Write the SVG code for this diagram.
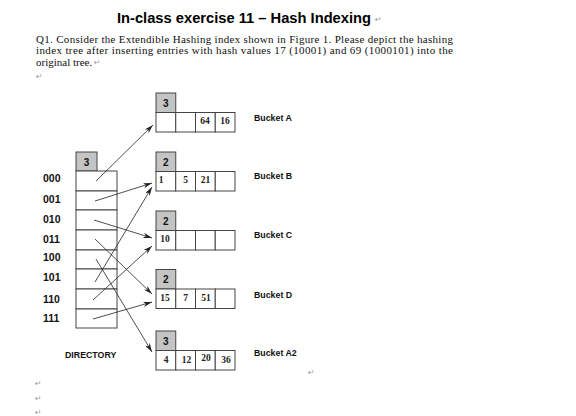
<svg xmlns="http://www.w3.org/2000/svg" width="576" height="416" viewBox="0 0 576 416">
<style>
.title{font-family:"Liberation Sans",Arial,sans-serif;font-weight:bold;font-size:15px;fill:#000}
.body{font-family:"Liberation Serif","Times New Roman",serif;font-size:11px;fill:#111}
.pm{font-family:"DejaVu Sans",sans-serif;font-size:8px;fill:#9a9a9a}
.lbl{font-family:"Liberation Sans",Arial,sans-serif;font-weight:bold;font-size:10.5px;fill:#111}
.blbl{font-family:"Liberation Sans",Arial,sans-serif;font-weight:bold;font-size:8.8px;fill:#111}
.dig{font-family:"Liberation Sans",Arial,sans-serif;font-weight:bold;font-size:10px;fill:#111;text-anchor:middle}
.ent{font-family:"Liberation Serif","Times New Roman",serif;font-weight:bold;font-size:9.5px;fill:#222;text-anchor:middle}
.cell{fill:#fff;stroke:#444;stroke-width:1}
.depth{fill:#c4c4c4;stroke:#444;stroke-width:1}
.conn line{stroke:#222;stroke-width:0.8;marker-end:url(#ah)}
</style>
<defs>
<marker id="ah" viewBox="0 0 10 6" refX="10" refY="3" markerWidth="9" markerHeight="5.4" markerUnits="userSpaceOnUse" orient="auto">
<path d="M0,0 L10,3 L0,6 L3,3 z" fill="#222"/>
</marker>
</defs>
<rect width="576" height="416" fill="#fff"/>
<g id="header">
<text class="title" x="117" y="23" textLength="254" lengthAdjust="spacingAndGlyphs">In-class exercise 11 – Hash Indexing</text>
<text class="pm" x="375" y="22">↵</text>
<text class="body" x="36" y="42.5" textLength="417" lengthAdjust="spacing">Q1. Consider the Extendible Hashing index shown in Figure 1. Please depict the hashing</text>
<text class="body" x="36" y="54.2" textLength="417" lengthAdjust="spacing">index tree after inserting entries with hash values 17 (10001) and 69 (1000101) into the</text>
<text class="body" x="36" y="65.8">original tree.</text>
<text class="pm" x="94" y="65">↵</text>
<text class="pm" x="36" y="79">↵</text>
</g>
<g id="directory">
<rect class="depth" x="76" y="152" width="21" height="19"/>
<text class="dig" x="86.5" y="165.5">3</text>
<rect class="cell" x="76" y="171" width="41" height="20"/>
<rect class="cell" x="76" y="191" width="41" height="19"/>
<rect class="cell" x="76" y="210" width="41" height="20"/>
<rect class="cell" x="76" y="230" width="41" height="20"/>
<rect class="cell" x="76" y="250" width="41" height="19"/>
<rect class="cell" x="76" y="269" width="41" height="20"/>
<rect class="cell" x="76" y="289" width="41" height="20"/>
<rect class="cell" x="76" y="309" width="41" height="19"/>
<text class="lbl" x="43" y="181.5">000</text>
<text class="lbl" x="43" y="202.5">001</text>
<text class="lbl" x="43" y="222.5">010</text>
<text class="lbl" x="43" y="242.5">011</text>
<text class="lbl" x="43" y="260.5">100</text>
<text class="lbl" x="43" y="280.5">101</text>
<text class="lbl" x="43" y="302.5">110</text>
<text class="lbl" x="43" y="321.5">111</text>
<text class="blbl" x="65" y="357.5">DIRECTORY</text>
</g>
<g id="bucketA">
<rect class="depth" x="156" y="93" width="19.75" height="19.5"/>
<text class="dig" x="165.9" y="106.5">3</text>
<rect class="cell" x="156" y="112.5" width="19.75" height="19.5"/>
<rect class="cell" x="175.75" y="112.5" width="19.75" height="19.5"/>
<rect class="cell" x="195.5" y="112.5" width="19.75" height="19.5"/>
<rect class="cell" x="215.25" y="112.5" width="19.75" height="19.5"/>
<text class="ent" x="205" y="123.5">64</text>
<text class="ent" x="225" y="123.5">16</text>
<text class="blbl" x="254" y="120.5">Bucket A</text>
</g>
<g id="bucketB">
<rect class="depth" x="156" y="152" width="19.75" height="19.5"/>
<text class="dig" x="165.9" y="165.5">2</text>
<rect class="cell" x="156" y="171.5" width="19.75" height="19.5"/>
<rect class="cell" x="175.75" y="171.5" width="19.75" height="19.5"/>
<rect class="cell" x="195.5" y="171.5" width="19.75" height="19.5"/>
<rect class="cell" x="215.25" y="171.5" width="19.75" height="19.5"/>
<text class="ent" x="161" y="182.5">1</text>
<text class="ent" x="185.5" y="182.5">5</text>
<text class="ent" x="205.5" y="182.5">21</text>
<text class="blbl" x="254" y="179">Bucket B</text>
</g>
<g id="bucketC">
<rect class="depth" x="156" y="211" width="19.75" height="19.5"/>
<text class="dig" x="165.9" y="224.5">2</text>
<rect class="cell" x="156" y="230.5" width="19.75" height="19.5"/>
<rect class="cell" x="175.75" y="230.5" width="19.75" height="19.5"/>
<rect class="cell" x="195.5" y="230.5" width="19.75" height="19.5"/>
<rect class="cell" x="215.25" y="230.5" width="19.75" height="19.5"/>
<text class="ent" x="165" y="241.5">10</text>
<text class="blbl" x="254" y="237.5">Bucket C</text>
</g>
<g id="bucketD">
<rect class="depth" x="156" y="269.5" width="19.75" height="19.5"/>
<text class="dig" x="165.9" y="283">2</text>
<rect class="cell" x="156" y="289" width="19.75" height="19.5"/>
<rect class="cell" x="175.75" y="289" width="19.75" height="19.5"/>
<rect class="cell" x="195.5" y="289" width="19.75" height="19.5"/>
<rect class="cell" x="215.25" y="289" width="19.75" height="19.5"/>
<text class="ent" x="165" y="301">15</text>
<text class="ent" x="185.5" y="301">7</text>
<text class="ent" x="206" y="301">51</text>
<text class="blbl" x="254" y="297.5">Bucket D</text>
</g>
<g id="bucketA2">
<rect class="depth" x="156" y="331" width="19.75" height="19.5"/>
<text class="dig" x="165.9" y="344.5">3</text>
<rect class="cell" x="156" y="350.5" width="19.75" height="19.5"/>
<rect class="cell" x="175.75" y="350.5" width="19.75" height="19.5"/>
<rect class="cell" x="195.5" y="350.5" width="19.75" height="19.5"/>
<rect class="cell" x="215.25" y="350.5" width="19.75" height="19.5"/>
<text class="ent" x="166" y="363">4</text>
<text class="ent" x="186.5" y="363">12</text>
<text class="ent" x="206" y="361">20</text>
<text class="ent" x="226" y="363">36</text>
<text class="blbl" x="254" y="355.5">Bucket A2</text>
</g>
<g id="connectors" class="conn">
<line x1="96" y1="181" x2="153" y2="125"/>
<line x1="95" y1="201" x2="152" y2="183"/>
<line x1="94" y1="220" x2="152" y2="238"/>
<line x1="95" y1="239" x2="152" y2="294"/>
<line x1="96" y1="259" x2="152" y2="352"/>
<line x1="95" y1="282" x2="152" y2="187"/>
<line x1="93" y1="300" x2="152" y2="246"/>
<line x1="93" y1="319" x2="152" y2="302"/>
</g>
<g id="marks">
<text class="pm" x="308" y="375">↵</text>
<text class="pm" x="35" y="386">↵</text>
<text class="pm" x="35" y="401">↵</text>
<text class="pm" x="35" y="415">↵</text>
</g>
</svg>
